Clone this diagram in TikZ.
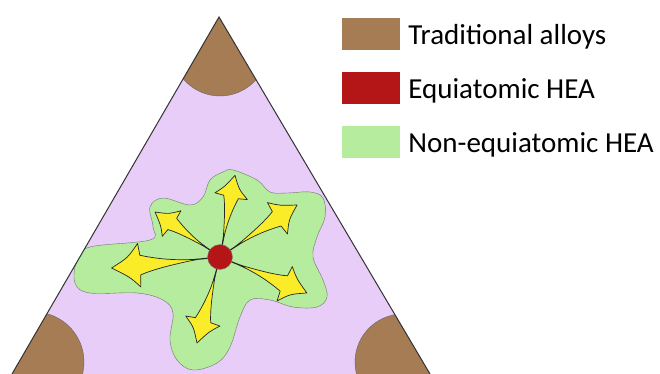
\documentclass[tikz,border=0pt]{standalone}
\usepackage{fontspec}
\setmainfont{Carlito}
\usetikzlibrary{positioning}

\definecolor{alloybrown}{RGB}{166,124,84}
\definecolor{heared}{RGB}{180,22,24}
\definecolor{heagreen}{RGB}{181,236,157}
\definecolor{phaselav}{RGB}{232,205,248}
\definecolor{arrowyellow}{RGB}{250,236,40}

\tikzset{
  legendbox/.style={minimum width=58pt, minimum height=32pt, inner sep=0pt},
  legendtext/.style={inner sep=0pt, text height=27pt, text depth=6pt, font=\fontsize{29}{34}\selectfont},
  swoosh/.style={fill=arrowyellow, draw=black!85, line width=0.7pt, line join=round}
}

\begin{document}
\begin{tikzpicture}[x=1pt, y=-1pt]
    % Keep the page at the size of the reference
    \useasboundingbox (0,0) rectangle (660,374);

    % Corners of the composition triangle
    \coordinate (top) at (219,17);
    \coordinate (left) at (12,374);
    \coordinate (right) at (430,374);

    % Fill the triangle
    \fill[phaselav] (top) -- (left) -- (right) -- cycle;

    \begin{scope}
        \clip (top) -- (left) -- (right) -- cycle;
        % Traditional alloys in the three corners
        \filldraw[fill=alloybrown, draw=black!60, thin] (220,48) circle (48pt);
        \filldraw[fill=alloybrown, draw=black!60, thin] (34,362) circle (50pt);
        \filldraw[fill=alloybrown, draw=black!60, thin] (403,362) circle (48pt);

        % Non-equiatomic region round the centre
        \filldraw[fill=heagreen, draw=black!55, thin]
            plot[smooth cycle, tension=0.6] coordinates {
            (233,170) (257,180) (270,192) (287,193) (310,192) (323,198)
            (325,217) (317,237) (313,257) (323,280) (327,297) (317,307)
            (293,307) (270,300) (250,300) (240,317) (230,347) (217,363)
            (193,370) (177,360) (170,340) (173,313) (163,300) (137,293)
            (90,293) (75,283) (77,260) (90,247) (150,240) (153,227)
            (150,207) (163,198) (190,205) (203,197) (210,180) (223,172)};
    \end{scope}

    % Outline of the triangle
    \draw[black!80, line width=1pt] (left) -- (top) -- (right);

    % Arrows leaving the equiatomic point
    \coordinate (hub) at (220,257);
    \foreach \ang/\len in {79.6/83, 34/93, 145.3/79, -174.2/109, -22.5/94, -105/89} {
        \begin{scope}[shift={(hub)}, rotate=\ang]
            \draw[black!85, line width=1.2pt] (0,0) -- ({0.72*\len},0);
            \draw[swoosh] ({0.2*\len},0)
                .. controls ({0.5*\len},{-0.03*\len}) and ({0.65*\len},{-0.06*\len}) .. ({0.74*\len},{-0.09*\len})
                -- ({0.75*\len},{-0.2*\len})
                .. controls ({0.84*\len},{-0.1*\len}) .. (\len,0)
                .. controls ({0.84*\len},{0.08*\len}) .. ({0.74*\len},{0.2*\len})
                -- ({0.73*\len},{0.09*\len})
                .. controls ({0.6*\len},{0.05*\len}) and ({0.45*\len},{0.01*\len}) .. ({0.2*\len},0)
                -- cycle;
        \end{scope}
    }

    % Equiatomic HEA at the centre
    \node[circle, fill=heared, draw=black!50, thin, minimum size=25pt, inner sep=0pt] (hea) at (hub) {};

    % Legend
    \node[legendbox, fill=alloybrown] (tradbox) at (371,34) {};
    \node[legendtext, right=8pt of tradbox] (tradtext) {Traditional alloys};
    \node[legendbox, fill=heared] (equibox) at (371,88) {};
    \node[legendtext, right=8pt of equibox] (equitext) {Equiatomic HEA};
    \node[legendbox, fill=heagreen] (nonbox) at (371,142) {};
    \node[legendtext, right=8pt of nonbox] (nontext) {Non-equiatomic HEA};
\end{tikzpicture}
\end{document}
